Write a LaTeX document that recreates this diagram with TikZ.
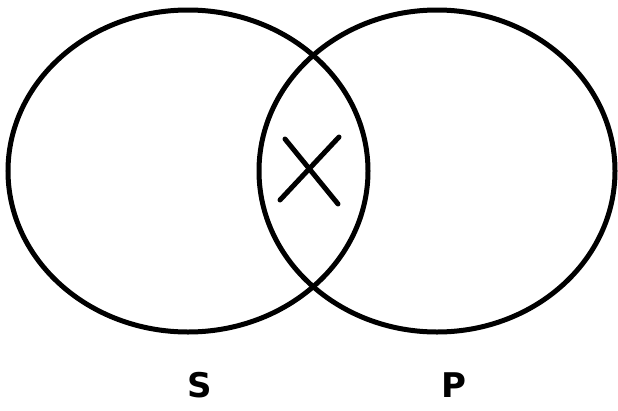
\documentclass[tikz,border=0pt]{standalone}
\usepackage{fontspec}
\setmainfont{DejaVu Sans}
\begin{document}
\begin{tikzpicture}[x=1pt,y=-1pt,
  ring/.style={draw=black,line width=5pt},
  cross/.style={draw=black,line width=5pt,line cap=round},
  lbl/.style={font=\fontsize{34}{34}\selectfont\bfseries,inner sep=0pt}]
\useasboundingbox (0,0) rectangle (618,410);
\draw[ring] (188,171) ellipse [x radius=180, y radius=161];
\draw[ring] (437,171) ellipse [x radius=178, y radius=161];
\coordinate (a1) at (285,139);
\coordinate (a2) at (338,204);
\coordinate (b1) at (339,137);
\coordinate (b2) at (280,200);
\draw[cross] (a1) -- (a2);
\draw[cross] (b1) -- (b2);
\node[lbl] (S) at (200,385) {S};
\node[lbl] (P) at (454,385) {P};
\end{tikzpicture}
\end{document}
